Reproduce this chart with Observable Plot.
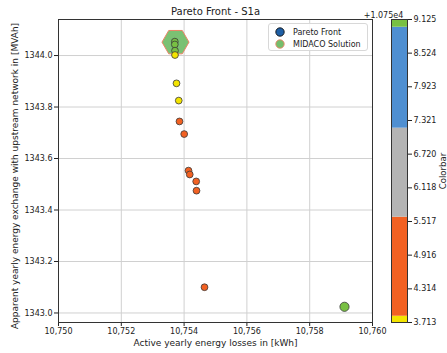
<!DOCTYPE html>
<html>
<head>
<meta charset="utf-8">
<script src="https://cdn.jsdelivr.net/npm/d3@7"></script>
<script src="https://cdn.jsdelivr.net/npm/@observablehq/plot@0.6"></script>
<style>
  html, body { margin: 0; padding: 0; background: white; }
  #wrap { position: relative; width: 447px; height: 353px; font-family: "DejaVu Sans", sans-serif; }
  #wrap svg { position: absolute; top: 0; }
  #legend {
    position: absolute; left: 268px; top: 23px; width: 100px; height: 28px;
    border: 1px solid #d8d8d8; border-radius: 3px; background: rgba(255,255,255,0.85);
    font-size: 8px; color: #222; box-sizing: border-box;
  }
  #legend .row { position: absolute; left: 0; height: 12px; display: flex; align-items: center; }
  #legend svg { position: static; margin-left: 6px; margin-right: 8px; }
</style>
</head>
<body>
<div id="wrap"></div>
<script>
// Pareto front: active losses (kWh) vs apparent energy exchange (MVAh)
const lossKWh = [10753.704, 10753.704, 10753.71, 10753.71, 10753.758, 10753.83, 10753.853,
                 10754.003, 10754.14, 10754.18, 10754.385, 10754.395, 10754.65, 10759.108];
const exchangeMVAh = [1344.054, 1344.043, 1344.019, 1344.002, 1343.892, 1343.825, 1343.744,
                      1343.695, 1343.553, 1343.538, 1343.511, 1343.475, 1343.100, 1343.024];
const colorValue = [10759.125, 10759.06, 10759.02, 10753.80, 10753.75, 10753.713, 10754.2,
                    10754.5, 10754.8, 10754.9, 10755.1, 10755.3, 10755.4, 10759.05];
// MIDACO solution
const midacoLoss = [10753.726];
const midacoExchange = [1344.052];

// colour bins of the colorbar
const binEdges = [10753.713, 10753.825, 10755.594, 10757.184, 10758.987, 10759.125];
const binColors = ["#f3e400", "#f26122", "#b4b4b4", "#4f8fd1", "#78c043"];
const colorbarTicks = [3.713, 4.314, 4.916, 5.517, 6.118, 6.720, 7.321, 7.923, 8.524, 9.125];
const colorOffset = 10750;

const xTicks = [10750, 10752, 10754, 10756, 10758, 10760];
const yTicks = [1343.0, 1343.2, 1343.4, 1343.6, 1343.8, 1344.0];

const points = lossKWh.map((x, i) => ({x, y: exchangeMVAh[i], c: colorValue[i], i}));
const midaco = midacoLoss.map((x, i) => ({x, y: midacoExchange[i]}));
const colorScale = d3.scaleThreshold().domain(binEdges.slice(1, -1)).range(binColors);

// flat-topped regular hexagon
const flatHexagon = {
  draw(context, size) {
    const r = Math.sqrt(size / Math.PI);
    for (let k = 0; k < 6; ++k) {
      const a = k * Math.PI / 3;
      const px = r * Math.cos(a), py = r * Math.sin(a);
      if (k === 0) context.moveTo(px, py); else context.lineTo(px, py);
    }
    context.closePath();
  }
};

const last = points.length - 1;
const main = Plot.plot({
  width: 447, height: 353,
  marginLeft: 58, marginRight: 75, marginTop: 19, marginBottom: 31,
  style: {fontFamily: "DejaVu Sans, sans-serif", fontSize: "8px", color: "#222", background: "white"},
  x: {domain: [10750, 10760]},
  y: {domain: [1342.963, 1344.14]},
  marks: [
    Plot.gridX(xTicks, {stroke: "#d0d0d0", strokeOpacity: 1}),
    Plot.gridY(yTicks, {stroke: "#d0d0d0", strokeOpacity: 1}),
    Plot.axisX(xTicks, {tickFormat: d3.format(","), tickSize: 4, tickPadding: 2, label: null}),
    Plot.axisY(yTicks, {tickFormat: ".1f", tickSize: 4, tickPadding: 2, label: null}),
    Plot.text(["Active yearly energy losses in [kWh]"], {frameAnchor: "bottom", lineAnchor: "middle",
      dy: 21, fontSize: 9, fill: "#222"}),
    Plot.text(["Apparent yearly energy exchange with upstream network in [MVAh]"], {frameAnchor: "left",
      textAnchor: "middle", lineAnchor: "middle", dx: -43, dy: 5, rotate: -90, fontSize: 9, fill: "#222"}),
    Plot.dot(midaco, {x: "x", y: "y", symbol: flatHexagon, r: 13.5,
      fill: "#74be6c", fillOpacity: 0.95, stroke: "#ec8466", strokeWidth: 1}),
    Plot.dot(points.filter(d => d.i !== last), {x: "x", y: "y", r: 3.4,
      fill: d => colorScale(d.c), stroke: "#3a3a3a", strokeWidth: 0.8}),
    Plot.dot(points.filter(d => d.i === last), {x: "x", y: "y", r: 4.6,
      fill: d => colorScale(d.c), stroke: "#3a3a3a", strokeWidth: 0.8}),
    Plot.frame({stroke: "#333"}),
    Plot.text(["Pareto Front - S1a"], {frameAnchor: "top", lineAnchor: "middle", dy: -8, fontSize: 10, fill: "#222"})
  ]
});
main.style.left = "0px";
document.getElementById("wrap").append(main);

// colorbar
const segments = binColors.map((c, k) => ({y1: binEdges[k], y2: binEdges[k + 1], c}));
const bar = Plot.plot({
  width: 86, height: 353,
  marginLeft: 30, marginRight: 40, marginTop: 19, marginBottom: 31,
  style: {fontFamily: "DejaVu Sans, sans-serif", fontSize: "8px", color: "#222", background: "transparent", overflow: "visible"},
  y: {domain: [binEdges[0], binEdges[binEdges.length - 1]]},
  marks: [
    Plot.rect(segments, {y1: "y1", y2: "y2", fill: "c"}),
    Plot.frame({stroke: "#333"}),
    Plot.axisY(colorbarTicks.map(t => t + colorOffset), {anchor: "right",
      tickFormat: d => (d - colorOffset).toFixed(3), tickSize: 4, tickPadding: 2, label: null}),
    Plot.text(["Colorbar"], {frameAnchor: "right", textAnchor: "middle", lineAnchor: "middle", dx: 36, rotate: -90, fontSize: 8.5, fill: "#222"}),
    Plot.text(["+1.075e4"], {frameAnchor: "top", lineAnchor: "bottom", dy: -2, dx: -16, fontSize: 8, fill: "#222"})
  ]
});
bar.style.left = "361px";
document.getElementById("wrap").append(bar);

// legend
const legend = document.createElement("div");
legend.id = "legend";
const entries = [
  {label: "Pareto Front", fill: "#1f5fa5", stroke: "#111"},
  {label: "MIDACO Solution", fill: "#74be6c", stroke: "#ec8466"}
];
entries.forEach((e, k) => {
  const row = document.createElement("div");
  row.className = "row";
  row.style.top = (2 + k * 12) + "px";
  row.innerHTML = `<svg width="10" height="10"><circle cx="5" cy="5" r="4.2" fill="${e.fill}" stroke="${e.stroke}" stroke-width="0.9"/></svg><span>${e.label}</span>`;
  legend.append(row);
});
document.getElementById("wrap").append(legend);
</script>
</body>
</html>
